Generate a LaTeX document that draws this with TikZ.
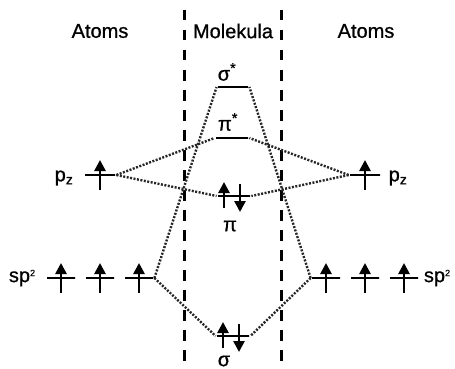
\documentclass[tikz,border=0pt]{standalone}
\usepackage{fontspec}
\setmainfont{Liberation Sans}[BoldFont=Liberation Sans,BoldFeatures={FakeBold=0.8}]
\usetikzlibrary{positioning,arrows.meta,calc}

\begin{document}
\begin{tikzpicture}[x=1pt,y=-1pt,font=\fontsize{20}{24}\selectfont\bfseries,
  lvl/.style={draw,line width=2.8pt,minimum height=0pt,minimum width=30pt,inner sep=0pt},
  el/.style={line width=2.6pt,-{Triangle[width=11pt,length=11pt]}},
  corr/.style={line width=2.4pt,black!85,dash pattern=on 2pt off 1.5pt},
  sep/.style={line width=3pt,dash pattern=on 10.5pt off 9.5pt}]
  \useasboundingbox (0,0) rectangle (455,369);
  \clip (0,0) rectangle (455,369);
  % molecular orbitals
  \node[lvl] (ss) at (233,87) {};
  \node[lvl,minimum width=32pt] (ps) at (232,138) {};
  \node[lvl,minimum width=32pt] (pi) at (234,196) {};
  \node[lvl,minimum width=32pt] (sg) at (233,336) {};
  % atomic orbitals
  \node[lvl] (pzL) at (100,175) {};
  \node[lvl] (pzR) at (365,175) {};
  \node[lvl,minimum width=28pt] (spL1) at (61,278) {};
  \node[lvl,minimum width=28pt] (spL2) at (100,278) {};
  \node[lvl,minimum width=28pt] (spL3) at (139,278) {};
  \node[lvl,minimum width=28pt] (spR1) at (326,278) {};
  \node[lvl,minimum width=28pt] (spR2) at (365,278) {};
  \node[lvl,minimum width=28pt] (spR3) at (404,278) {};
  % labels
  \node (atL) at (100,31) {Atoms};
  \node (mol) at (233,31) {Molekula};
  \node (atR) at (366,31) {Atoms};
  \node (lss) at (227,72) {σ\textsuperscript{\Large*}};
  \node (lps) at (228,122) {π\textsuperscript{\Large*}};
  \node (lpi) at (230,226) {π};
  \node (lsg) at (224,361) {σ};
  \node (lpzL) at (64,178) {p\textsubscript{z}};
  \node (lpzR) at (398,178) {p\textsubscript{z}};
  \node (lspL) at (22,278) {sp\raisebox{6pt}{\fontsize{9}{9}\selectfont 2}};
  \node (lspR) at (437,278) {sp\raisebox{6pt}{\fontsize{9}{9}\selectfont 2}};
  % separators
  \coordinate (d1a) at (184,10); \coordinate (d1b) at (184,369);
  \coordinate (d2a) at (281,10); \coordinate (d2b) at (281,369);
  \draw[sep] (d1a) -- (d1b);
  \draw[sep] (d2a) -- (d2b);
  % electrons
  \foreach \n in {pzL,pzR,spL1,spL2,spL3,spR1,spR2,spR3}
    \draw[el] ($(\n)+(0,15)$) -- ($(\n)+(0,-15)$);
  \foreach \n in {pi,sg} {
    \draw[el] ($(\n)+(-10,12)$) -- ($(\n)+(-10,-14)$);
    \draw[el] ($(\n)+(6,-12)$) -- ($(\n)+(6,16)$);
  }
  % correlation lines
  \draw[corr] (pzL.east) -- (ps.west);
  \draw[corr] (pzL.east) -- (pi.west);
  \draw[corr] (pzR.west) -- (ps.east);
  \draw[corr] (pzR.west) -- (pi.east);
  \draw[corr] (spL3.east) -- (ss.west);
  \draw[corr] (spL3.east) -- (sg.west);
  \draw[corr] (spR1.west) -- (ss.east);
  \draw[corr] (spR1.west) -- (sg.east);
\end{tikzpicture}
\end{document}
